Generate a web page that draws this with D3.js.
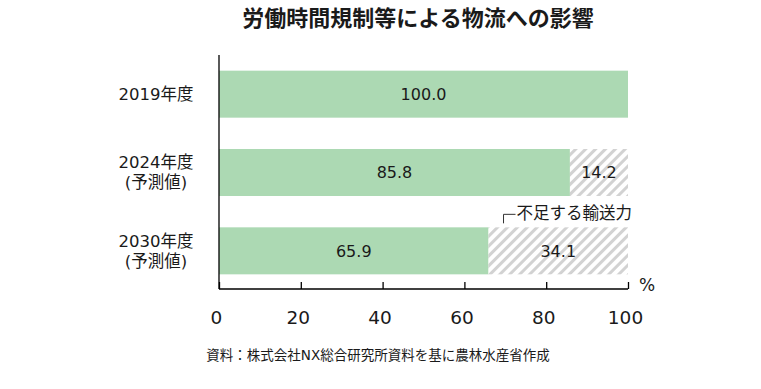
<!DOCTYPE html>
<html><head><meta charset="utf-8">
<script src="https://cdn.jsdelivr.net/npm/d3@7"></script>
<style>
html,body{margin:0;padding:0;background:#fff;}
text{font-family:"DejaVu Sans","Noto Sans CJK JP",sans-serif;fill:#1a1a1a;}
</style></head><body>
<svg id="c" width="761" height="389"></svg>
<script>
const title = "労働時間規制等による物流への影響";
const categories = [["2019年度"], ["2024年度", "(予測値)"], ["2030年度", "(予測値)"]];
const capacity = [100.0, 85.8, 65.9];
const shortfall = [0, 14.2, 34.1];
const xTicks = [0, 20, 40, 60, 80, 100];
const annotation = "不足する輸送力";
const unitLabel = "%";
const source = "資料：株式会社NX総合研究所資料を基に農林水産省作成";

const svg = d3.select("#c");
const green = "#acd9b3";

const defs = svg.append("defs");
const pat = defs.append("pattern").attr("id","hatch").attr("patternUnits","userSpaceOnUse")
  .attr("width",7).attr("height",7).attr("patternTransform","rotate(45)");
pat.append("rect").attr("width",7).attr("height",7).attr("fill","#fff");
pat.append("rect").attr("x",0).attr("width",3).attr("height",7).attr("fill","#d2d2d2");

const x = d3.scaleLinear().domain([0,100]).range([219,628]);
const keys = categories.map((c,i)=>i);
const y = d3.scaleBand().domain(keys).range([55,290]).paddingInner(0.4).paddingOuter(0.2);

// title
svg.append("text").attr("x",418).attr("y",26).attr("text-anchor","middle")
  .style("font-family","'Noto Sans CJK JP'").style("font-weight","bold").style("font-size","22px")
  .text(title);

// bars
capacity.forEach((d,i)=>{
  svg.append("rect").attr("x",x(0)).attr("y",y(i)).attr("width",x(d)-x(0)).attr("height",y.bandwidth())
    .attr("fill",green);
});
shortfall.forEach((d,i)=>{
  if(d<=0) return;
  svg.append("rect").attr("x",x(capacity[i])).attr("y",y(i)).attr("width",x(capacity[i]+d)-x(capacity[i]))
    .attr("height",y.bandwidth()).attr("fill","url(#hatch)");
  svg.append("text").attr("x",x(capacity[i]+d/2)).attr("y",y(i)+y.bandwidth()/2).attr("dy","0.36em")
    .attr("text-anchor","middle").style("font-size","16px").text(d.toFixed(1));
});
capacity.forEach((d,i)=>{
  svg.append("text").attr("x",x(d/2)).attr("y",y(i)+y.bandwidth()/2).attr("dy","0.36em")
    .attr("text-anchor","middle").style("font-size","16px").text(d.toFixed(1));
});

// category labels
categories.forEach((lines,i)=>{
  const cy = y(i)+y.bandwidth()/2;
  const lh = 20;
  lines.forEach((t,j)=>{
    svg.append("text").attr("x",156).attr("y",cy+(j-(lines.length-1)/2)*lh).attr("dy","0.36em")
      .attr("text-anchor","middle").style("font-size","16.5px").text(t);
  });
});

// axes
const axisY = 289;
const xa = svg.append("g").attr("transform",`translate(0,${axisY})`)
  .call(d3.axisBottom(x).tickValues(xTicks).tickSize(-7).tickPadding(0).tickFormat(d3.format("d")));
xa.select(".domain").attr("d",`M${x(0)},0H${x(100)}`).attr("stroke","#000").attr("stroke-width",1.3);
xa.selectAll(".tick line").attr("stroke","#000").attr("stroke-width",1.3);
xa.selectAll(".tick text").style("font-size","18.5px").style("font-family","'DejaVu Sans'")
  .attr("fill","#1a1a1a").attr("x",-3).attr("y",28).attr("dy","0.36em");
svg.append("line").attr("x1",x(0)).attr("x2",x(0)).attr("y1",55).attr("y2",axisY)
  .attr("stroke","#000").attr("stroke-width",1.3);

svg.append("text").attr("x",647).attr("y",285).attr("dy","0.36em").attr("text-anchor","middle")
  .style("font-size","17px").text(unitLabel);

// annotation
const ax = x(capacity[2]) + 15;
const ay = y(2);
svg.append("path").attr("d",`M${ax},${ay-4}V${ay-13}H${ax+12}`).attr("fill","none").attr("stroke","#333").attr("stroke-width",1);
svg.append("text").attr("x",ax+13).attr("y",ay-14).attr("dy","0.36em").style("font-size","16.5px").text(annotation);

// source
svg.append("text").attr("x",378).attr("y",355).attr("dy","0.36em").attr("text-anchor","middle")
  .style("font-size","13.5px").text(source);
</script></body></html>
